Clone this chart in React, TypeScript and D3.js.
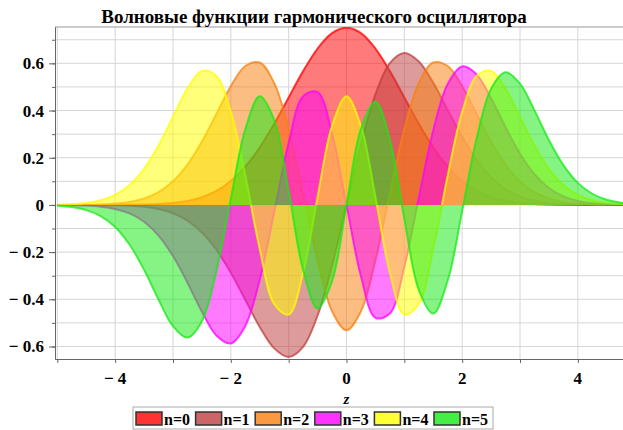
import { useRef, useEffect } from 'react';
import * as d3 from 'd3';

const title = 'Волновые функции гармонического осциллятора';

const zValues = [
  -5, -4.75, -4.5, -4.25, -4, -3.75, -3.5, -3.25, -3, -2.75, -2.5, -2.25, -2, -1.75, -1.5, -1.25, -1, -0.75, -0.5, -0.25,
  0, 0.25, 0.5, 0.75, 1, 1.25, 1.5, 1.75, 2, 2.25, 2.5, 2.75, 3, 3.25, 3.5, 3.75, 4, 4.25, 4.5, 4.75, 5,
];

const psi0 = [
  0, 0, 0, 0.0001, 0.0003, 0.0007, 0.0016, 0.0038, 0.0083, 0.0171, 0.033, 0.0598, 0.1017, 0.1624, 0.2438, 0.3439, 0.4556, 0.567, 0.6628, 0.728,
  0.7511, 0.728, 0.6628, 0.567, 0.4556, 0.3439, 0.2438, 0.1624, 0.1017, 0.0598, 0.033, 0.0171, 0.0083, 0.0038, 0.0016, 0.0007, 0.0003, 0.0001, 0, 0, 0,
];
const psi1 = [
  0, -0.0001, -0.0002, -0.0005, -0.0014, -0.0035, -0.0081, -0.0176, -0.0354, -0.0666, -0.1167, -0.1901, -0.2875, -0.402, -0.5173, -0.6079, -0.6443, -0.6013, -0.4687, -0.2574,
  0, 0.2574, 0.4687, 0.6013, 0.6443, 0.6079, 0.5173, 0.402, 0.2875, 0.1901, 0.1167, 0.0666, 0.0354, 0.0176, 0.0081, 0.0035, 0.0014, 0.0005, 0.0002, 0.0001, 0,
];
const psi2 = [
  0.0001, 0.0003, 0.0008, 0.0022, 0.0055, 0.0127, 0.0273, 0.0544, 0.1003, 0.171, 0.2684, 0.3856, 0.5032, 0.5887, 0.6035, 0.5167, 0.3221, 0.0501, -0.2343, -0.4504,
  -0.5311, -0.4504, -0.2343, 0.0501, 0.3221, 0.5167, 0.6035, 0.5887, 0.5032, 0.3856, 0.2684, 0.171, 0.1003, 0.0544, 0.0273, 0.0127, 0.0055, 0.0022, 0.0008, 0.0003, 0.0001,
];
const psi3 = [
  -0.0004, -0.0011, -0.0029, -0.0073, -0.0169, -0.0361, -0.0714, -0.1299, -0.2168, -0.3295, -0.4526, -0.5531, -0.5869, -0.5129, -0.3168, -0.0311, 0.263, 0.4603, 0.4783, 0.3021,
  0, -0.3021, -0.4783, -0.4603, -0.263, 0.0311, 0.3168, 0.5129, 0.5869, 0.5531, 0.4526, 0.3295, 0.2168, 0.1299, 0.0714, 0.0361, 0.0169, 0.0073, 0.0029, 0.0011, 0.0004,
];
const psi4 = [
  0.0012, 0.0034, 0.0086, 0.0201, 0.0429, 0.0848, 0.153, 0.2515, 0.373, 0.4928, 0.5676, 0.5461, 0.3943, 0.1249, -0.1866, -0.42, -0.4649, -0.2875, 0.0338, 0.3349,
  0.46, 0.3349, 0.0338, -0.2875, -0.4649, -0.42, -0.1866, 0.1249, 0.3943, 0.5461, 0.5676, 0.4928, 0.373, 0.2515, 0.153, 0.0848, 0.0429, 0.0201, 0.0086, 0.0034, 0.0012,
];
const psi5 = [
  -0.0036, -0.0093, -0.0219, -0.0473, -0.0934, -0.1687, -0.2748, -0.4007, -0.5138, -0.5622, -0.4926, -0.2823, 0.0263, 0.3206, 0.4605, 0.3599, 0.0589, -0.2753, -0.4386, -0.3234,
  0, 0.3234, 0.4386, 0.2753, -0.0589, -0.3599, -0.4605, -0.3206, -0.0263, 0.2823, 0.4926, 0.5622, 0.5138, 0.4007, 0.2748, 0.1687, 0.0934, 0.0473, 0.0219, 0.0093, 0.0036,
];

const seriesValues = [psi0, psi1, psi2, psi3, psi4, psi5];
const seriesNames = ['n=0', 'n=1', 'n=2', 'n=3', 'n=4', 'n=5'];
const seriesColors = ['#ff0000', '#bf4040', '#f78110', '#ff00ff', '#ffff00', '#15ea15'];

const xTickLabels = [-4, -2, 0, 2, 4];
const yTickLabels = [-0.6, -0.4, -0.2, 0, 0.2, 0.4, 0.6];

const serif = '"Liberation Serif", "DejaVu Serif", "Times New Roman", serif';

export default function App() {
  const svgRef = useRef<SVGSVGElement>(null);

  useEffect(() => {
    const svg = svgRef.current;
    if (!svg) return;

    const width = 623;
    const height = 430;
    const left = 55;
    const right = 638;
    const top = 27;
    const bottom = 359;

    const svgSel = d3.select(svg);
    svgSel.selectAll('*').remove();
    svgSel.attr('width', width).attr('height', height).style('font-family', serif);

    const x = d3.scaleLinear().domain([-5.04, 5.04]).range([left, right]);
    const y = d3.scaleLinear().domain([-0.653, 0.754]).range([bottom, top]);

    const fmt = (d: number) => (d < 0 ? `− ${Math.abs(d)}` : `${d}`);

    svgSel
      .append('defs')
      .append('clipPath')
      .attr('id', 'plot-clip')
      .append('rect')
      .attr('x', left)
      .attr('y', top)
      .attr('width', right - left)
      .attr('height', bottom - top);

    // Grid
    const xGrid = d3.range(-5, 6);
    const yGrid = d3.range(-6, 8).map((i) => i / 10);
    svgSel
      .append('g')
      .selectAll('line')
      .data(xGrid)
      .join('line')
      .attr('x1', (d) => x(d))
      .attr('x2', (d) => x(d))
      .attr('y1', top)
      .attr('y2', bottom)
      .attr('stroke', '#d6d6d6')
      .attr('stroke-width', 1);
    svgSel
      .append('g')
      .selectAll('line')
      .data(yGrid)
      .join('line')
      .attr('x1', left)
      .attr('x2', right)
      .attr('y1', (d) => y(d))
      .attr('y2', (d) => y(d))
      .attr('stroke', '#d6d6d6')
      .attr('stroke-width', 1);

    // Top border
    svgSel
      .append('line')
      .attr('x1', left)
      .attr('x2', right)
      .attr('y1', top)
      .attr('y2', top)
      .attr('stroke', '#999');

    // Filled wave functions
    const area = d3
      .area<number>()
      .x((_, i) => x(zValues[i]))
      .y0(y(0))
      .y1((d) => y(d))
      .curve(d3.curveCatmullRom);
    const line = d3
      .line<number>()
      .x((_, i) => x(zValues[i]))
      .y((d) => y(d))
      .curve(d3.curveCatmullRom);

    const plot = svgSel.append('g').attr('clip-path', 'url(#plot-clip)');
    seriesValues.forEach((vals, i) => {
      plot
        .append('path')
        .datum(vals)
        .attr('d', area)
        .attr('fill', seriesColors[i])
        .attr('fill-opacity', 0.52);
      plot
        .append('path')
        .datum(vals)
        .attr('d', line)
        .attr('fill', 'none')
        .attr('stroke', seriesColors[i])
        .attr('stroke-opacity', 0.75)
        .attr('stroke-width', 2);
    });

    // Axes
    const axisColor = '#666';
    const styleAxis = (sel: d3.Selection<SVGGElement, unknown, null, undefined>) => {
      sel.select('.domain').attr('stroke', axisColor);
      sel.selectAll('.tick line').attr('stroke', axisColor);
    };

    svgSel
      .append('g')
      .attr('transform', `translate(${left},0)`)
      .call(d3.axisLeft(y).tickValues(yGrid).tickSize(3).tickSizeOuter(0).tickFormat(() => ''))
      .call(styleAxis);
    svgSel
      .append('g')
      .attr('transform', `translate(${left},0)`)
      .call(d3.axisLeft(y).tickValues(yTickLabels).tickSize(6).tickSizeOuter(0).tickFormat(() => ''))
      .call(styleAxis);

    svgSel
      .append('g')
      .attr('transform', `translate(0,${bottom})`)
      .call(d3.axisBottom(x).tickValues(xGrid).tickSize(4).tickSizeOuter(0).tickFormat(() => ''))
      .call(styleAxis);

    // Tick labels
    svgSel
      .append('g')
      .selectAll('text')
      .data(yTickLabels)
      .join('text')
      .attr('x', left - 11)
      .attr('y', (d) => y(d) + 6)
      .attr('text-anchor', 'end')
      .style('font-family', serif)
      .style('font-weight', 'bold')
      .style('font-size', '17px')
      .attr('fill', '#000')
      .text((d) => fmt(d));

    svgSel
      .append('g')
      .selectAll('text')
      .data(xTickLabels)
      .join('text')
      .attr('x', (d) => x(d))
      .attr('y', 384)
      .attr('text-anchor', 'middle')
      .style('font-family', serif)
      .style('font-weight', 'bold')
      .style('font-size', '17px')
      .attr('fill', '#000')
      .text((d) => fmt(d));

    // Axis label
    svgSel
      .append('text')
      .attr('x', x(0))
      .attr('y', 404)
      .attr('text-anchor', 'middle')
      .style('font-family', serif)
      .style('font-style', 'italic')
      .style('font-weight', 'bold')
      .style('font-size', '15px')
      .text('z');

    // Title
    svgSel
      .append('text')
      .attr('x', 314)
      .attr('y', 23)
      .attr('text-anchor', 'middle')
      .style('font-family', serif)
      .style('font-weight', 'bold')
      .style('font-size', '19px')
      .text(title);

    // Legend
    const legend = svgSel.append('g');
    legend
      .append('rect')
      .attr('x', 133)
      .attr('y', 407)
      .attr('width', 360)
      .attr('height', 22)
      .attr('fill', '#fff')
      .attr('stroke', '#aaa');
    seriesNames.forEach((name, i) => {
      const lx = 136 + i * 59.6;
      legend
        .append('rect')
        .attr('x', lx)
        .attr('y', 412)
        .attr('width', 26)
        .attr('height', 13)
        .attr('fill', seriesColors[i])
        .attr('fill-opacity', 0.8)
        .attr('stroke', '#333')
        .attr('stroke-width', 1.5);
      legend
        .append('text')
        .attr('x', lx + 28)
        .attr('y', 425)
        .style('font-family', serif)
        .style('font-weight', 'bold')
        .style('font-size', '16px')
        .text(name);
    });
  }, []);

  return (
    <div style={{ position: 'absolute', left: 0, top: 0, width: 623, height: 430, background: '#fff' }}>
      <svg ref={svgRef} style={{ display: 'block' }} />
    </div>
  );
}
